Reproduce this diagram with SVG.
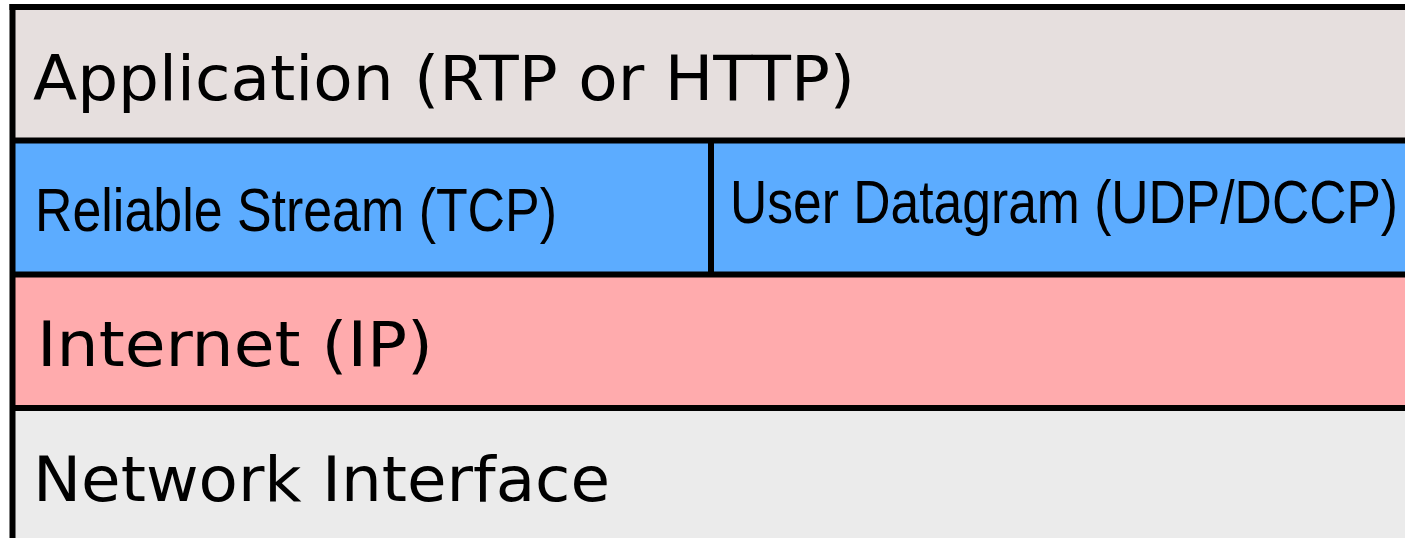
<svg xmlns="http://www.w3.org/2000/svg" width="1405" height="538" viewBox="0 0 1405 538">
<style>
.wide{font-family:"DejaVu Sans","Liberation Sans",sans-serif;font-size:63px;fill:#000}
.narrow{font-family:"Liberation Sans Narrow","Liberation Sans",sans-serif;font-size:62px;fill:#000}
.ln{stroke:#000;stroke-width:6;fill:none}
</style>
<rect x="0" y="0" width="1405" height="538" fill="#ffffff"/>
<g id="application">
<rect x="12" y="7" width="1393" height="134" fill="#E6DFDE"/>
<text class="wide" x="33" y="100" textLength="822" lengthAdjust="spacingAndGlyphs">Application (RTP or HTTP)</text>
</g>
<g id="tcp">
<rect x="12" y="141" width="699" height="134" fill="#5CACFF"/>
<text class="narrow" x="35" y="231" textLength="522" lengthAdjust="spacingAndGlyphs">Reliable Stream (TCP)</text>
</g>
<g id="udp">
<rect x="711" y="141" width="694" height="134" fill="#5CACFF"/>
<text class="narrow" x="730" y="223" textLength="668" lengthAdjust="spacingAndGlyphs">User Datagram (UDP/DCCP)</text>
</g>
<g id="internet">
<rect x="12" y="275" width="1393" height="133" fill="#FFABAD"/>
<text class="wide" x="37" y="366" textLength="396" lengthAdjust="spacingAndGlyphs">Internet (IP)</text>
</g>
<g id="network">
<rect x="12" y="408" width="1393" height="130" fill="#EBEBEB"/>
<text class="wide" x="33" y="501" textLength="577" lengthAdjust="spacingAndGlyphs">Network Interface</text>
</g>
<g id="connectors">
<line class="ln" x1="9.5" y1="7" x2="1405" y2="7"/>
<line class="ln" x1="12.5" y1="4" x2="12.5" y2="538"/>
<line class="ln" x1="12.5" y1="140.5" x2="1405" y2="140.5"/>
<line class="ln" x1="12.5" y1="274.5" x2="1405" y2="274.5"/>
<line class="ln" x1="12.5" y1="408" x2="1405" y2="408"/>
<line class="ln" x1="711" y1="140.5" x2="711" y2="274.5"/>
</g>
</svg>
